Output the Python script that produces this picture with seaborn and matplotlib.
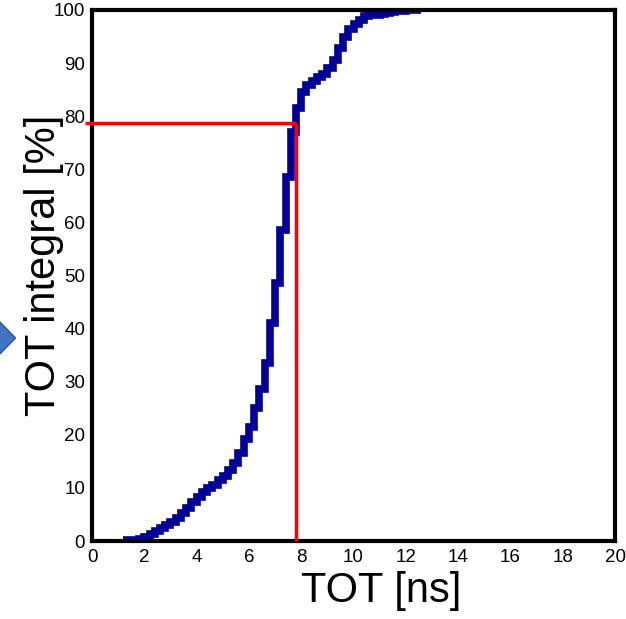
import matplotlib
matplotlib.use("Agg")
import matplotlib.pyplot as plt
import seaborn as sns
import pandas as pd
from matplotlib.patches import Polygon
from matplotlib.ticker import MultipleLocator

# ---- data ----
tot_ns = [1.2, 1.4, 1.6, 1.8, 2.0, 2.2, 2.4, 2.6, 2.8, 3.0,
          3.2, 3.4, 3.6, 3.8, 4.0, 4.2, 4.4, 4.6, 4.8, 5.0,
          5.2, 5.4, 5.6, 5.8, 6.0, 6.2, 6.4, 6.6, 6.8, 7.0,
          7.2, 7.4, 7.6, 7.8, 8.0, 8.2, 8.4, 8.6, 8.8, 9.0,
          9.2, 9.4, 9.6, 9.8, 10.0, 10.2, 10.4, 10.6, 10.8, 11.0,
          11.2, 11.4, 11.6, 11.8, 12.0, 12.2, 12.4, 12.6]
integral_pct = [0.2, 0.2, 0.2, 0.3, 0.8, 1.3, 1.9, 2.5, 3.0, 3.6,
                4.3, 5.2, 6.3, 7.3, 8.3, 9.3, 9.9, 10.6, 11.4, 12.3,
                13.4, 14.6, 16.6, 19.2, 21.5, 25.0, 28.6, 33.5, 41.0, 48.5,
                58.5, 68.5, 77.0, 81.5, 84.5, 85.8, 86.6, 87.3, 88.0, 89.0,
                90.5, 92.8, 95.0, 96.5, 97.3, 98.2, 98.8, 99.0, 99.1, 99.3,
                99.5, 99.7, 99.8, 99.9, 100.0, 100.0, 100.0, 100.0]
cut_tot = 7.8
cut_pct = 78.7
x_ticks = [0, 2, 4, 6, 8, 10, 12, 14, 16, 18, 20]
y_ticks = [0, 10, 20, 30, 40, 50, 60, 70, 80, 90, 100]

df = pd.DataFrame({"TOT": tot_ns, "integral": integral_pct})

sns.set_style("white")
plt.rcParams["font.family"] = ["Liberation Sans", "DejaVu Sans"]
plt.rcParams["text.color"] = "black"
plt.rcParams["axes.labelcolor"] = "black"
plt.rcParams["xtick.color"] = "black"
plt.rcParams["ytick.color"] = "black"

fig = plt.figure(figsize=(6.26, 6.19), dpi=100)
ax = fig.add_axes([92/626, 1-541/619, (615-92)/626, (541-10)/619])

sns.lineplot(data=df, x="TOT", y="integral", ax=ax, color="#000099",
             linewidth=5.5, drawstyle="steps-post", solid_capstyle="butt",
             solid_joinstyle="miter", estimator=None, sort=True)

# red cut lines
ax.plot([-0.25, cut_tot], [cut_pct, cut_pct], color="#ff0000", lw=2.5,
        clip_on=False, solid_capstyle="butt", zorder=4)
ax.plot([cut_tot, cut_tot], [0, cut_pct], color="#ff0000", lw=2.5,
        clip_on=False, solid_capstyle="butt", zorder=4)

ax.set_xlim(0, 20)
ax.set_ylim(0, 100)
ax.set_xticks(x_ticks)
ax.set_yticks(y_ticks)
ax.xaxis.set_minor_locator(MultipleLocator(0.5))
ax.yaxis.set_minor_locator(MultipleLocator(2))
ax.tick_params(which="major", direction="in", length=10, width=2.2,
               labelsize=13.5, colors="black", top=False, right=False)
ax.tick_params(which="minor", direction="in", length=5, width=2.2,
               colors="black", top=False, right=False)
ax.tick_params(axis="x", which="major", pad=6)
ax.tick_params(axis="y", which="major", pad=5)

for s in ax.spines.values():
    s.set_linewidth(3)
    s.set_color("black")
    s.set_visible(True)

ax.set_xlabel("TOT [ns]", fontsize=30, color="black")
ax.set_ylabel("TOT integral [%]", fontsize=30, color="black")
ax.xaxis.set_label_coords(0.553, -0.057)
ax.yaxis.set_label_coords(-0.054, 0.52)

# decorative arrow at left edge
pts = [(-5, 317), (15.5, 338), (-5, 359)]
poly = Polygon([(x/626, 1 - y/619) for x, y in pts], closed=True,
               transform=fig.transFigure, facecolor="#4472c4",
               edgecolor="#2f528f", lw=1, clip_on=False)
fig.patches.append(poly)

fig.savefig("out.png", dpi=100)
